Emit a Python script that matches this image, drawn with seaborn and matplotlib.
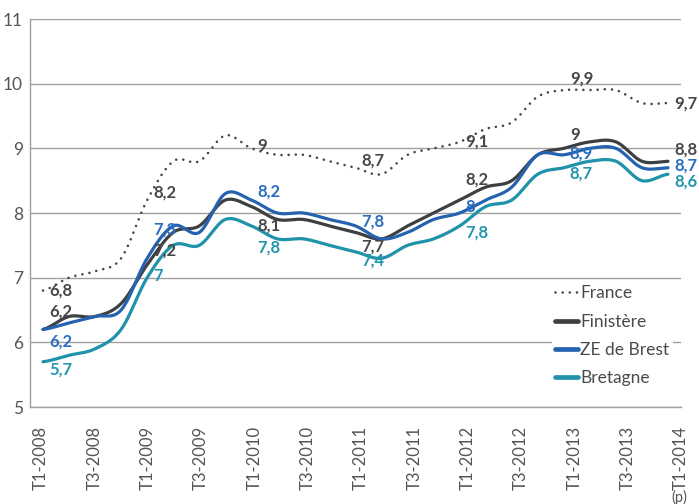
import matplotlib
matplotlib.use("Agg")
import matplotlib.pyplot as plt
import seaborn as sns
import pandas as pd
import numpy as np

# Quarterly series, T1-2008 .. T1-2014
quarters = [f"T{q}-{y}" for y in range(2008, 2014) for q in (1, 2, 3, 4)] + ["T1-2014"]

france = [6.8, 7.0, 7.1, 7.3, 8.2, 8.8, 8.8, 9.2, 9.0, 8.9, 8.9, 8.8, 8.7,
          8.6, 8.9, 9.0, 9.1, 9.3, 9.4, 9.8, 9.9, 9.9, 9.9, 9.7, 9.7]
finistere = [6.2, 6.4, 6.4, 6.6, 7.2, 7.7, 7.8, 8.2, 8.1, 7.9, 7.9, 7.8, 7.7,
             7.6, 7.8, 8.0, 8.2, 8.4, 8.5, 8.9, 9.0, 9.1, 9.1, 8.8, 8.8]
brest = [6.2, 6.3, 6.4, 6.5, 7.3, 7.8, 7.7, 8.3, 8.2, 8.0, 8.0, 7.9, 7.8,
         7.6, 7.7, 7.9, 8.0, 8.2, 8.4, 8.9, 8.9, 9.0, 9.0, 8.7, 8.7]
bretagne = [5.7, 5.8, 5.9, 6.2, 7.0, 7.5, 7.5, 7.9, 7.8, 7.6, 7.6, 7.5, 7.4,
            7.3, 7.5, 7.6, 7.8, 8.1, 8.2, 8.6, 8.7, 8.8, 8.8, 8.5, 8.6]

series_names = ["France", "Finistère", "ZE de Brest", "Bretagne"]
series_values = [france, finistere, brest, bretagne]
label_idx = [0, 4, 8, 12, 16, 20, 24]

# styling
line_colors = ["#45474a", "#3d4043", "#2563b0", "#2092a9"]
text_colors = ["#45474a", "#45474a", "#2a6cc0", "#2196ac"]
# vertical label offsets in pixels (positive = down)
label_dy = {
    "France": [0, -8, -2, -7, 0, -12, 0],
    "Finistère": [-18, -14, 19, 14, -21, -13, -12],
    "ZE de Brest": [12, -29, -9, -4, -6, -1, -2],
    "Bretagne": [8, -2, 22, 9, 7, 6, 7],
}


def smooth(x, y, n=20):
    """Catmull-Rom curve through the points (like Excel's smoothed lines)"""
    x = np.asarray(x, float)
    y = np.asarray(y, float)
    px = np.concatenate([[2 * x[0] - x[1]], x, [2 * x[-1] - x[-2]]])
    py = np.concatenate([[y[0]], y, [y[-1]]])
    t = np.linspace(0, 1, n, endpoint=False)
    xs, ys = [], []
    for i in range(1, len(px) - 2):
        for p, out in ((px, xs), (py, ys)):
            p0, p1, p2, p3 = p[i - 1], p[i], p[i + 1], p[i + 2]
            out.append(0.5 * (2 * p1 + (-p0 + p2) * t
                              + (2 * p0 - 5 * p1 + 4 * p2 - p3) * t ** 2
                              + (-p0 + 3 * p1 - 3 * p2 + p3) * t ** 3))
    xs.append([x[-1]])
    ys.append([y[-1]])
    return np.concatenate(xs), np.concatenate(ys)


sns.set_style("white")
plt.rcParams["font.family"] = ["Lato", "DejaVu Sans"]

fig = plt.figure(figsize=(6.99, 5.04), dpi=100)
ax = fig.add_axes([30 / 699, 1 - 407 / 504, 651 / 699, 388 / 504])

x = np.arange(len(quarters))
for name, vals, col in zip(series_names, series_values, line_colors):
    sx, sy = smooth(x, vals)
    df = pd.DataFrame({"x": sx, "value": sy})
    if name == "France":
        sns.lineplot(data=df, x="x", y="value", ax=ax, color=col, lw=1.9,
                     linestyle=(0, (0.01, 2.7)), dash_capstyle="round",
                     estimator=None, sort=False, label=name)
    else:
        sns.lineplot(data=df, x="x", y="value", ax=ax, color=col, lw=2.3,
                     estimator=None, sort=False, label=name)

# data labels
for name, vals, tcol in zip(series_names, series_values, text_colors):
    for i, dy in zip(label_idx, label_dy[name]):
        v = vals[i]
        txt = (f"{v:.0f}" if float(v).is_integer() else f"{v:.1f}").replace(".", ",")
        ax.annotate(txt, (x[i], v), xytext=(6, -dy), textcoords="offset pixels",
                    ha="left", va="center", fontsize=12, fontweight="bold",
                    color=tcol, annotation_clip=False)

ax.set_xlim(-0.5, 24.46)
ax.set_ylim(5, 11)
ax.set_yticks(range(5, 12))
# the category labels spread a little wider than the plotted points
ax.set_xticks(np.linspace(-0.08, 24.5, len(quarters[::2])))
ax.set_xticklabels(quarters[::2], rotation=90, fontsize=12, color="#555555")
ax.tick_params(axis="y", labelsize=12.5, labelcolor="#555555", length=0, pad=5)
ax.tick_params(axis="x", length=0, pad=13.5)
ax.set_xlabel("")
ax.set_ylabel("")
ax.yaxis.grid(True, color="#a0a0a0", lw=1.0)
ax.set_axisbelow(True)
for s in ("top", "right"):
    ax.spines[s].set_visible(False)
for s in ("left", "bottom"):
    ax.spines[s].set_color("#a0a0a0")
    ax.spines[s].set_linewidth(1.0)

leg = ax.legend(loc="upper left", bbox_to_anchor=((552 - 30) / 651, 1 - (282 - 19) / 388),
                borderaxespad=0, borderpad=0.2, labelspacing=0.70, handlelength=1.27,
                handletextpad=0.15, fontsize=12.5, frameon=True, facecolor="white",
                edgecolor="none", framealpha=1, fancybox=False)
for t in leg.get_texts():
    t.set_color("#4a4a4a")
for h in leg.get_lines():
    if h.get_linestyle() == "-":
        h.set_linewidth(3.4)

fig.text(679 / 699, 1 - 497 / 504, "(p)", fontsize=10.5, color="#555555",
         ha="center", va="center")

fig.savefig("out.png", dpi=100)
